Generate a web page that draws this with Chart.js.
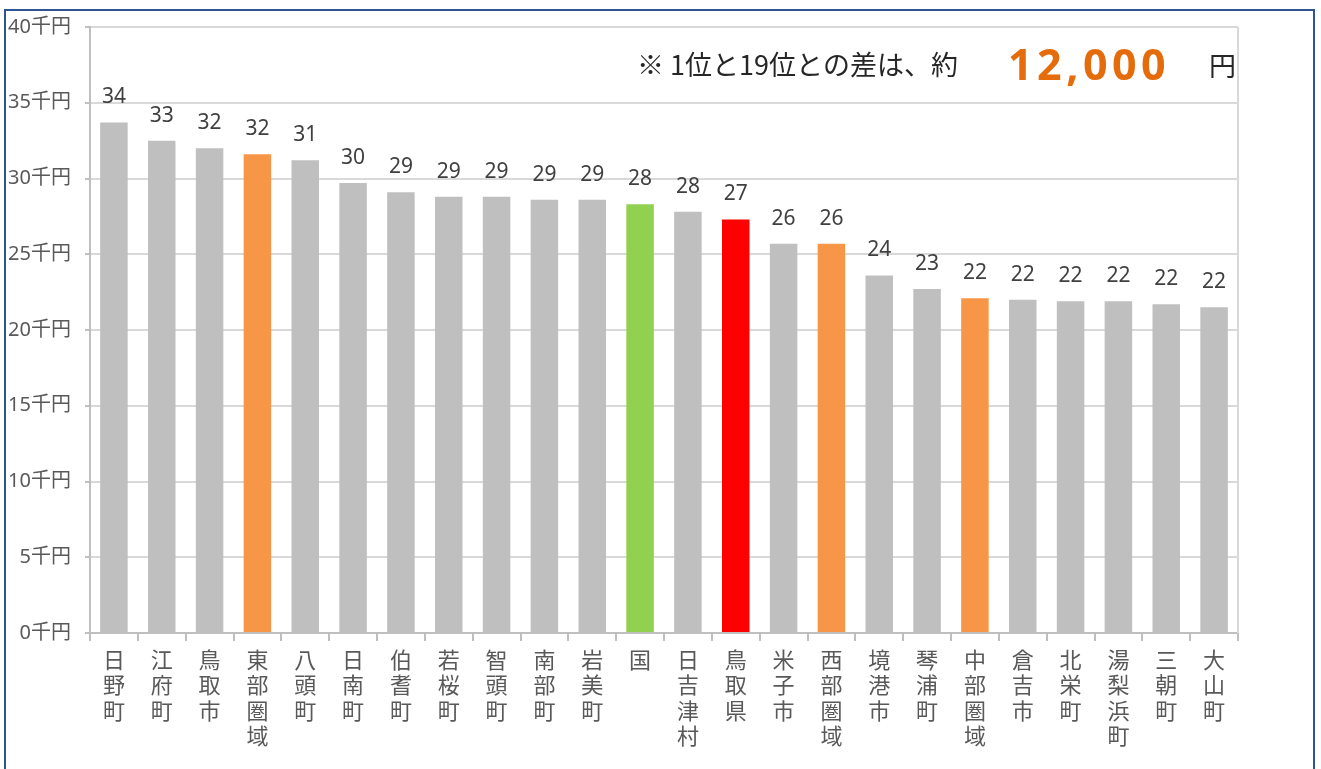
<!DOCTYPE html>
<html lang="ja">
<head>
<meta charset="utf-8">
<script src="https://cdn.jsdelivr.net/npm/chart.js@4.4.1/dist/chart.umd.min.js"></script>
<style>
  html, body { margin: 0; padding: 0; background: #fff; overflow: hidden; }
  #wrap { position: relative; width: 1321px; height: 769px; }
  #frame {
    position: absolute; left: 4px; top: 9px; width: 1311px; height: 800px;
    border: 2px solid #2f5496; box-sizing: border-box; pointer-events: none;
  }
  canvas { position: absolute; left: 0; top: 0; }
</style>
</head>
<body>
<div id="wrap">
  <canvas id="chart" width="1321" height="769"></canvas>
  <div id="frame"></div>
</div>
<script>
// 地域別の値（千円）
const categories = ['日野町', '江府町', '鳥取市', '東部圏域', '八頭町', '日南町', '伯耆町', '若桜町',
  '智頭町', '南部町', '岩美町', '国', '日吉津村', '鳥取県', '米子市', '西部圏域', '境港市', '琴浦町',
  '中部圏域', '倉吉市', '北栄町', '湯梨浜町', '三朝町', '大山町'];
const values = [33.7, 32.5, 32.0, 31.6, 31.2, 29.7, 29.1, 28.8, 28.8, 28.6, 28.6, 28.3, 27.8, 27.3,
  25.7, 25.7, 23.6, 22.7, 22.1, 22.0, 21.9, 21.9, 21.7, 21.5];
const yTicks = [0, 5, 10, 15, 20, 25, 30, 35, 40];
const yUnit = '千円';
const noteText = '※ 1位と19位との差は、約';
const noteValue = '12,000';
const noteUnit = '円';

const GREY = '#bfbfbf', ORANGE = '#f79646', GREEN = '#92d050', RED = '#ff0000';
const colorFor = name => {
  if (name.endsWith('圏域')) return ORANGE;
  if (name === '国') return GREEN;
  if (name === '鳥取県') return RED;
  return GREY;
};

const valueLabels = {
  id: 'valueLabels',
  afterDatasetsDraw(chart) {
    const ctx = chart.ctx;
    const meta = chart.getDatasetMeta(0);
    ctx.save();
    ctx.font = '21px "Noto Sans", sans-serif';
    ctx.fillStyle = '#404040';
    ctx.textAlign = 'center';
    ctx.textBaseline = 'alphabetic';
    meta.data.forEach((bar, i) => {
      ctx.fillText(Math.round(values[i]), bar.x, bar.y - 19);
    });
    ctx.restore();
  }
};

const extras = {
  id: 'extras',
  beforeDatasetsDraw(chart) {
    const { ctx, chartArea: a } = chart;
    ctx.save();
    ctx.strokeStyle = '#d9d9d9';
    ctx.lineWidth = 2;
    ctx.beginPath();
    ctx.moveTo(a.right, a.top);
    ctx.lineTo(a.right, a.bottom);
    ctx.stroke();
    ctx.restore();
  },
  afterDraw(chart) {
    const ctx = chart.ctx;
    ctx.save();
    ctx.textBaseline = 'alphabetic';
    ctx.textAlign = 'left';
    ctx.fillStyle = '#262626';
    ctx.font = '27px "Noto Sans CJK JP", sans-serif';
    ctx.fillText(noteText, 637, 75);
    ctx.fillText(noteUnit, 1209, 76);
    ctx.fillStyle = '#e46c0a';
    ctx.font = 'bold 43px "Open Sans", sans-serif';
    ctx.letterSpacing = '4.5px';
    ctx.fillText(noteValue, 1008, 80);
    ctx.restore();
  }
};

new Chart(document.getElementById('chart'), {
  type: 'bar',
  data: {
    labels: categories.map(c => c.split('')),
    datasets: [{
      data: values,
      backgroundColor: categories.map(colorFor),
      barPercentage: 0.575,
      categoryPercentage: 1
    }]
  },
  options: {
    responsive: false,
    animation: false,
    layout: { padding: { top: 27, right: 83, left: 0, bottom: 0 } },
    plugins: { legend: { display: false }, tooltip: { enabled: false } },
    scales: {
      x: {
        afterFit: s => { s.height = 136; },
        grid: { drawOnChartArea: false, drawTicks: true, tickLength: 8, color: '#bfbfbf', lineWidth: 2 },
        border: { color: '#bfbfbf', width: 2 },
        ticks: {
          autoSkip: false, maxRotation: 0, padding: 6, color: '#595959',
          font: { size: 22, family: '"Noto Sans CJK JP", sans-serif', lineHeight: 1.15 }
        }
      },
      y: {
        min: 0, max: 40,
        afterFit: s => { s.width = 90; },
        afterBuildTicks: s => { s.ticks = yTicks.map(v => ({ value: v })); },
        grid: { color: '#d9d9d9', lineWidth: 2, tickLength: 5, tickColor: '#bfbfbf' },
        border: { color: '#bfbfbf', width: 2 },
        ticks: {
          padding: 14, color: '#595959',
          font: { size: 20, family: '"Noto Sans", "Noto Sans CJK JP", sans-serif' },
          callback: v => v + yUnit
        }
      }
    }
  },
  plugins: [valueLabels, extras]
});
</script>
</body>
</html>
